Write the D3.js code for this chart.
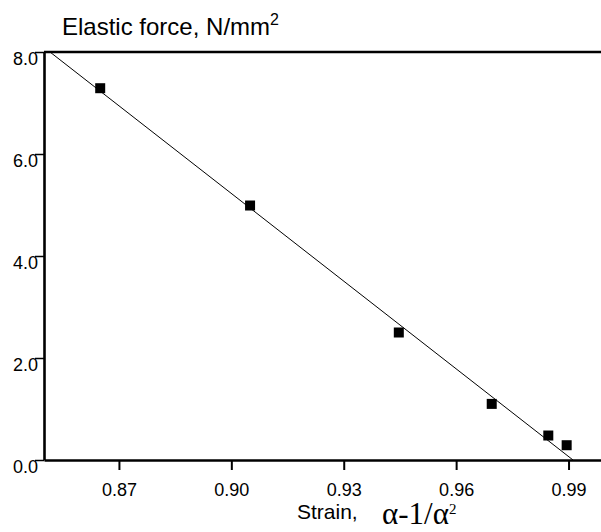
<!DOCTYPE html>
<html>
<head>
<meta charset="utf-8">
<script src="https://cdn.jsdelivr.net/npm/d3@7"></script>
<style>
  body { margin: 0; background: #fff; }
  svg { display: block; }
  text { font-family: "Liberation Sans", Arial, sans-serif; fill: #000; }
</style>
</head>
<body>
<div id="chart"></div>
<script>
// measured points
var strain = [0.865, 0.905, 0.9447, 0.9695, 0.9846, 0.9895];
var force = [7.29, 4.99, 2.50, 1.10, 0.48, 0.29];

// fitted line end points (as drawn)
var fitX = [0.8516, 0.9912];
var fitY = [8.0, 0.0];

var xTicks = [0.87, 0.90, 0.93, 0.96, 0.99];
var yTicks = [0, 2, 4, 6, 8];

var width = 601, height = 532;

var svg = d3.select("#chart").append("svg")
    .attr("width", width)
    .attr("height", height);

var x = d3.scaleLinear().domain([0.85, 1.0]).range([44, 606]);
var y = d3.scaleLinear().domain([0, 8]).range([460, 52]);

// x axis
var xAxis = svg.append("g")
    .attr("transform", "translate(0," + y(0) + ")")
    .call(d3.axisBottom(x).tickValues(xTicks).tickFormat(d3.format(".2f")).tickSize(10).tickSizeOuter(0));
xAxis.select(".domain").attr("stroke", "#000").attr("stroke-width", 2.6);
xAxis.selectAll(".tick line").attr("stroke", "#000").attr("stroke-width", 2);
xAxis.selectAll(".tick text")
    .attr("y", 36).attr("dy", null)
    .style("font-size", "18px")
    .style("font-family", "'Liberation Sans', Arial, sans-serif");

// y axis
var yAxis = svg.append("g")
    .attr("transform", "translate(" + x(0.85) + ",0)")
    .call(d3.axisLeft(y).tickValues(yTicks).tickFormat(d3.format(".1f")).tickSize(9).tickSizeOuter(0));
yAxis.select(".domain").attr("stroke", "#000").attr("stroke-width", 2.6);
yAxis.selectAll(".tick line").attr("stroke", "#000").attr("stroke-width", 1.5);
yAxis.selectAll(".tick text")
    .attr("x", -6).attr("dy", "12.5px")
    .style("font-size", "18px")
    .style("font-family", "'Liberation Sans', Arial, sans-serif");

// top frame line
svg.append("line")
    .attr("x1", x(0.85)).attr("x2", width)
    .attr("y1", y(8)).attr("y2", y(8))
    .attr("stroke", "#000").attr("stroke-width", 2.6);

// fitted line
svg.append("line")
    .attr("x1", x(fitX[0])).attr("y1", y(fitY[0]))
    .attr("x2", x(fitX[1])).attr("y2", y(fitY[1]))
    .attr("stroke", "#000").attr("stroke-width", 1);

// points
var size = 10;
svg.append("g").selectAll("rect")
    .data(strain)
    .enter().append("rect")
    .attr("x", function(d) { return x(d) - size / 2; })
    .attr("y", function(d, i) { return y(force[i]) - size / 2; })
    .attr("width", size)
    .attr("height", size)
    .attr("fill", "#000");

// y title
var yt = svg.append("text")
    .attr("x", 62).attr("y", 35)
    .style("font-size", "24px");
yt.append("tspan").text("Elastic force, N/mm");
yt.append("tspan").attr("dy", -10).style("font-size", "16px").text("2");

// x title
svg.append("text")
    .attr("x", 297).attr("y", 519)
    .style("font-size", "21px")
    .text("Strain,");
var xt = svg.append("text")
    .attr("x", 382).attr("y", 524)
    .style("font-family", "'Liberation Serif', 'Times New Roman', serif")
    .style("font-size", "31px");
xt.append("tspan").text("\u03b1-1/\u03b1");
xt.append("tspan").attr("dy", -10).style("font-size", "15px").text("2");
</script>
</body>
</html>
